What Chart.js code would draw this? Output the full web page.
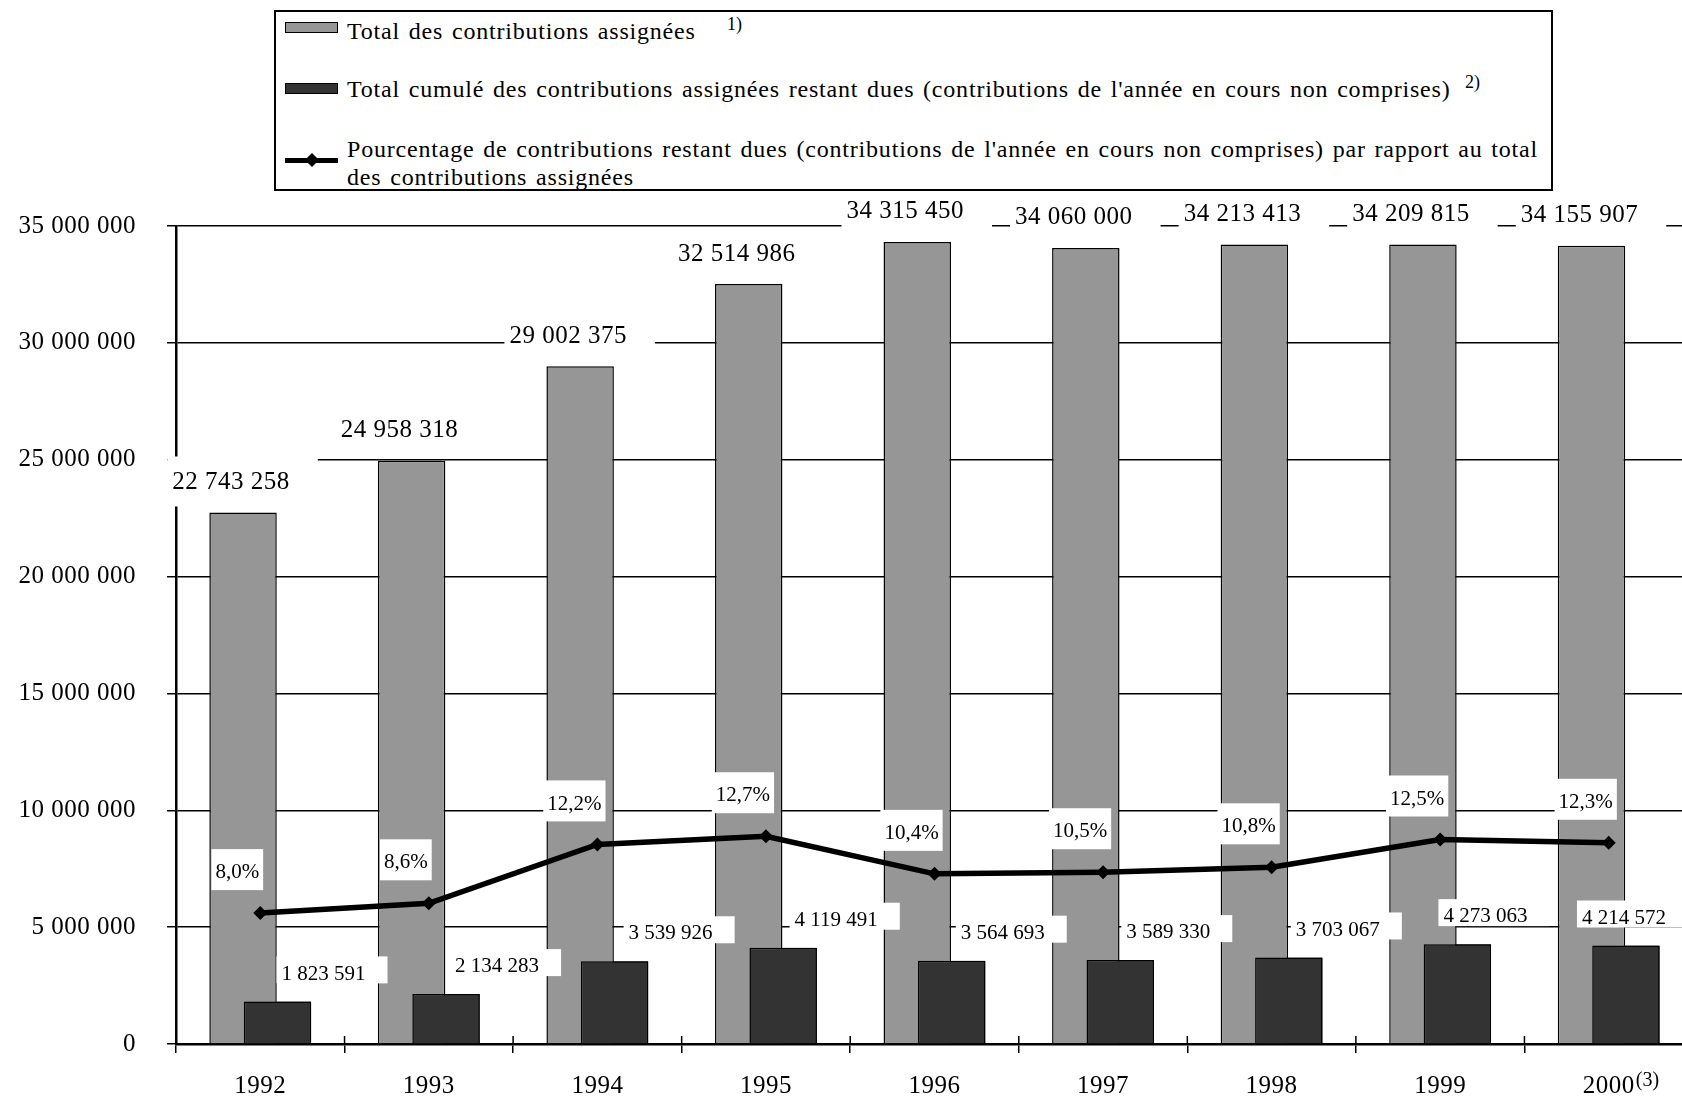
<!DOCTYPE html>
<html lang="fr">
<head>
<meta charset="utf-8">
<title>Contributions assignées 1992-2000</title>
<script src="https://cdn.jsdelivr.net/npm/chart.js@4.4.0/dist/chart.umd.min.js"></script>
<style>
    html, body { margin: 0; padding: 0; background: #fff; overflow: hidden; }
    #wrap { position: relative; width: 1682px; height: 1096px; overflow: hidden; }
    #chartCanvas { position: absolute; left: 0; top: 0; }
    #legend {
        position: absolute; left: 274px; top: 10px; width: 1279px; height: 181px;
        box-sizing: border-box; border: 2px solid #000; background: #fff;
        font-family: "Liberation Serif", "Times New Roman", serif; font-size: 24px;
        letter-spacing: 0.8px; word-spacing: 2px; color: #000;
    }
    #legend .sw { position: absolute; left: 9px; width: 53px; height: 11px; box-sizing: border-box; border: 1.5px solid #000; }
    #legend .txt { position: absolute; left: 71px; line-height: 28px; white-space: nowrap; }
    #legend .sup { position: absolute; font-size: 18px; line-height: 18px; letter-spacing: 0; }
    #legend .lineSw { position: absolute; left: 9px; top: 146px; width: 53px; height: 5px; background: #000; }
    #legend .diamond { position: absolute; left: 31px; top: 143px; width: 10px; height: 10px; background: #000; transform: rotate(45deg); }
</style>
</head>
<body>
<div id="wrap">
    <canvas id="chartCanvas" width="1700" height="1096"></canvas>
    <div id="legend">
        <div class="sw" style="top:10px;background:#969696"></div>
        <div class="txt" style="top:5px">Total des contributions assignées</div>
        <div class="sup" style="left:451px;top:3px">1)</div>
        <div class="sw" style="top:71px;background:#333333"></div>
        <div class="txt" style="top:63px">Total cumulé des contributions assignées restant dues (contributions de l'année en cours non comprises)</div>
        <div class="sup" style="left:1189px;top:61px">2)</div>
        <div class="lineSw"></div>
        <div class="diamond"></div>
        <div class="txt" style="top:123px">Pourcentage de contributions restant dues (contributions de l'année en cours non comprises) par rapport au total<br>des contributions assignées</div>
    </div>
</div>
<script>
// Data
const years = ['1992', '1993', '1994', '1995', '1996', '1997', '1998', '1999', '2000'];
const yearNotes = ['', '', '', '', '', '', '', '', '(3)'];
const totalAssessed = [22743258, 24958318, 29002375, 32514986, 34315450, 34060000, 34213413, 34209815, 34155907];
const outstanding = [1823591, 2134283, 3539926, 4119491, 3564693, 3589330, 3703067, 4273063, 4214572];
const outstandingPct = [8.0, 8.6, 12.2, 12.7, 10.4, 10.5, 10.8, 12.5, 12.3];
const yMax = 35000000;
const yStep = 5000000;
const pctMax = 50;

// horizontal nudges of the outstanding-value labels (px, relative to bar centre)
const valueLabelDx = [46, 51, 56, 53, 51, 48, 49, 28, -2];

const FONT = '"Liberation Serif", "Times New Roman", serif';
Chart.defaults.font.family = FONT;
Chart.defaults.font.size = 25;
Chart.defaults.color = '#000';

const fmtNumber = n => String(n).replace(/\B(?=(\d{3})+(?!\d))/g, ' ');
const fmtPct = v => v.toFixed(1).replace('.', ',') + '%';

function drawBoxedLabel(ctx, text, cx, cy, size, spacing, pad) {
    ctx.font = size + 'px ' + FONT;
    ctx.letterSpacing = spacing + 'px';
    const w = ctx.measureText(text).width;
    const left = cx - w / 2;
    ctx.fillStyle = '#fff';
    ctx.fillRect(left - pad[0], cy - pad[1], w + pad[0] + pad[2], pad[1] + pad[3]);
    ctx.fillStyle = '#000';
    ctx.textAlign = 'left';
    ctx.textBaseline = 'alphabetic';
    ctx.fillText(text, left, cy + size * 0.34);
}

const textSpacing = {
    id: 'textSpacing',
    beforeDraw(chart) {
        chart.ctx.letterSpacing = '0.5px';
    }
};

// the outstanding bars overlap the totals, so paint them again right after the grey ones
const darkOnTop = {
    id: 'darkOnTop',
    afterDatasetDraw(chart, args) {
        if (args.index === 0) {
            chart.getDatasetMeta(1).controller.draw();
        }
    }
};

const valueLabels = {
    id: 'valueLabels',
    afterDatasetsDraw(chart) {
        const ctx = chart.ctx;
        const grayBars = chart.getDatasetMeta(0).data;
        const darkBars = chart.getDatasetMeta(1).data;
        const points = chart.getDatasetMeta(2).data;
        ctx.save();
        grayBars.forEach((bar, i) => {
            drawBoxedLabel(ctx, fmtNumber(totalAssessed[i]), bar.x - 12, bar.y - 32, 25, 0.5, [5, 24, 28, 26]);
        });
        points.forEach((pt, i) => {
            drawBoxedLabel(ctx, fmtPct(outstandingPct[i]), pt.x - 23, pt.y - 42, 21, 0, [4, 22, 4, 19]);
        });
        darkBars.forEach((bar, i) => {
            drawBoxedLabel(ctx, fmtNumber(outstanding[i]), bar.x + valueLabelDx[i], bar.y - 29, 21, 0, [5, 16, 22, 11]);
        });
        ctx.restore();
    },
    afterDraw(chart) {
        const x = chart.scales.x;
        const ctx = chart.ctx;
        const step = (x.right - x.left) / years.length;
        ctx.save();
        // category ticks cross the x axis
        ctx.strokeStyle = '#000';
        ctx.lineWidth = 1.5;
        ctx.beginPath();
        for (let k = 0; k <= years.length; k++) {
            const px = x.left + k * step;
            ctx.moveTo(px, x.top - 8);
            ctx.lineTo(px, x.top);
        }
        ctx.stroke();
        // footnote marks after a year label
        ctx.fillStyle = '#000';
        ctx.textAlign = 'left';
        ctx.textBaseline = 'alphabetic';
        years.forEach((yr, i) => {
            if (!yearNotes[i]) return;
            ctx.font = '25px ' + FONT;
            ctx.letterSpacing = '0.5px';
            const w = ctx.measureText(yr).width;
            ctx.font = '20px ' + FONT;
            ctx.letterSpacing = '0px';
            ctx.fillText(yearNotes[i], x.getPixelForValue(i) + w / 2 + 1, x.top + 42);
        });
        ctx.restore();
    }
};

const ctx = document.getElementById('chartCanvas').getContext('2d');
new Chart(ctx, {
    data: {
        labels: years,
        datasets: [
            {
                type: 'bar',
                label: 'Total des contributions assignées',
                data: totalAssessed,
                yAxisID: 'y',
                backgroundColor: '#969696',
                borderColor: '#000',
                borderWidth: 1.5,
                categoryPercentage: 0.409,
                barPercentage: 1.957,
                order: 1
            },
            {
                type: 'bar',
                label: 'Total cumulé des contributions assignées restant dues',
                data: outstanding,
                yAxisID: 'y',
                backgroundColor: '#333333',
                borderColor: '#000',
                borderWidth: 1.5,
                categoryPercentage: 0.409,
                barPercentage: 1.957,
                order: 1
            },
            {
                type: 'line',
                label: 'Pourcentage de contributions restant dues',
                data: outstandingPct,
                yAxisID: 'y1',
                borderColor: '#000',
                borderWidth: 5.5,
                tension: 0,
                pointStyle: 'rectRot',
                pointRadius: 7,
                pointBackgroundColor: '#000',
                pointBorderColor: '#000',
                pointBorderWidth: 0,
                order: 0
            }
        ]
    },
    options: {
        responsive: false,
        animation: false,
        events: [],
        layout: { padding: { top: 226, right: 5, bottom: 0, left: 0 } },
        plugins: {
            legend: { display: false },
            tooltip: { enabled: false }
        },
        scales: {
            x: {
                type: 'category',
                offset: true,
                grid: { offset: true, drawOnChartArea: false, drawTicks: true, tickLength: 9, color: '#000', lineWidth: 1.5 },
                border: { display: true, color: '#000', width: 2.5 },
                ticks: { color: '#000', padding: 18, maxRotation: 0, autoSkip: false, font: { size: 25 } },
                afterFit(scale) { scale.height = 52; }
            },
            y: {
                type: 'linear',
                min: 0,
                max: yMax,
                grid: { color: '#000', lineWidth: 1.5, tickLength: 9 },
                border: { display: true, color: '#000', width: 2.5 },
                ticks: {
                    stepSize: yStep,
                    padding: 31,
                    color: '#000',
                    font: { size: 25 },
                    callback: v => fmtNumber(v)
                },
                afterFit(scale) { scale.width = 176; }
            },
            y1: {
                type: 'linear',
                display: false,
                position: 'right',
                min: 0,
                max: pctMax
            }
        }
    },
    plugins: [textSpacing, darkOnTop, valueLabels]
});
</script>
</body>
</html>
